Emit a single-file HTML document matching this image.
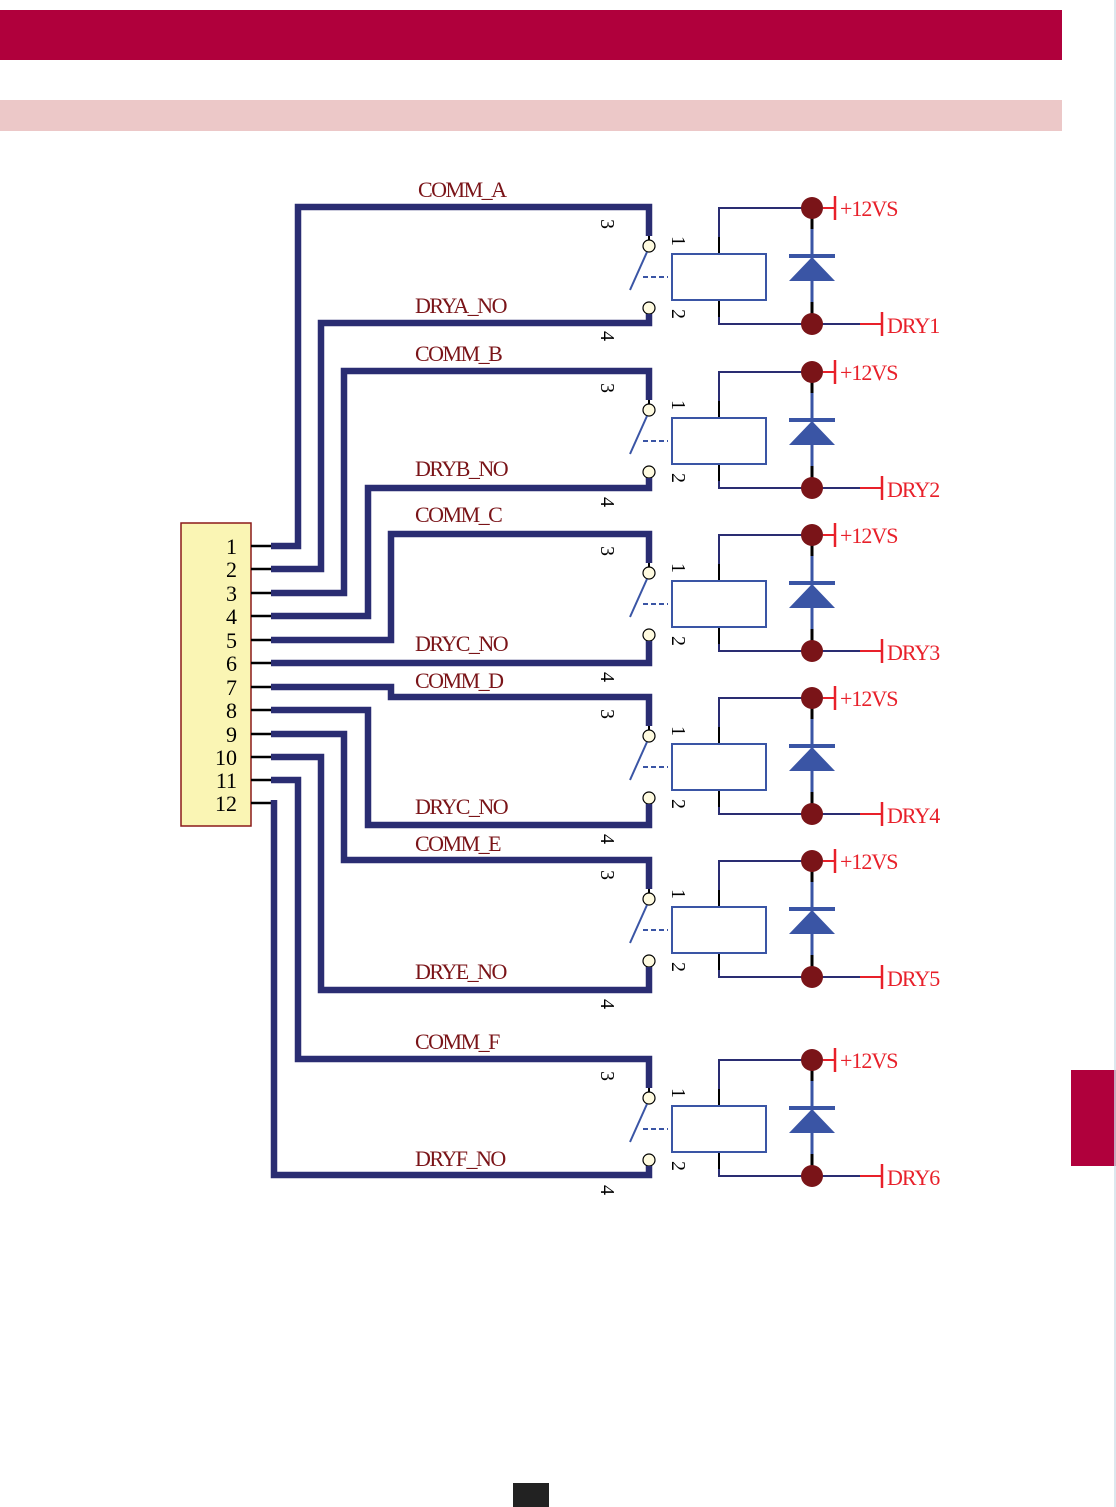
<!DOCTYPE html>
<html><head><meta charset="utf-8"><style>
html,body{margin:0;padding:0;background:#fff;}
svg{display:block;}
.lab{font-family:"Liberation Serif",serif;font-size:22px;fill:#7a1418;letter-spacing:-1.5px;}
.red{font-family:"Liberation Serif",serif;font-size:22px;fill:#e8202a;letter-spacing:-1px;}
.pn{font-family:"Liberation Serif",serif;font-size:22px;fill:#000;}
.num{font-family:"Liberation Serif",serif;font-size:20px;fill:#000;}
</style></head><body>
<svg width="1116" height="1507" viewBox="0 0 1116 1507" xmlns="http://www.w3.org/2000/svg">
<rect x="0" y="10" width="1062" height="50" fill="#b0003c"/>
<rect x="0" y="100" width="1062" height="31" fill="#ecc8c8"/>
<rect x="1071" y="1070" width="45" height="96" fill="#b0003c"/>
<line x1="1115" y1="0" x2="1115" y2="1507" stroke="#d0e0e8" stroke-width="1.5"/>
<rect x="513" y="1483" width="36" height="24" fill="#222"/>
<defs>
<g id="relay">
<polyline points="719,47 719,1 812,1" fill="none" stroke="#2a2d72" stroke-width="2"/>
<line x1="719" y1="30" x2="719" y2="47" stroke="#000" stroke-width="2"/>
<polyline points="719,93 719,117 860,117" fill="none" stroke="#2a2d72" stroke-width="2"/>
<line x1="719" y1="93" x2="719" y2="110" stroke="#000" stroke-width="2"/>
<rect x="672" y="47" width="94" height="46" fill="#fff" stroke="#3a55a5" stroke-width="2"/>
<line x1="812" y1="1" x2="812" y2="117" stroke="#3a55a5" stroke-width="3"/>
<line x1="812" y1="1" x2="812" y2="22" stroke="#000" stroke-width="3"/>
<line x1="812" y1="95" x2="812" y2="117" stroke="#000" stroke-width="3"/>
<line x1="789" y1="49" x2="835" y2="49" stroke="#3a55a5" stroke-width="4"/>
<polygon points="789,74 835,74 812,50" fill="#3a55a5"/>
<line x1="823" y1="1" x2="835" y2="1" stroke="#e8202a" stroke-width="2"/>
<line x1="835" y1="-11" x2="835" y2="13" stroke="#e8202a" stroke-width="2.5"/>
<line x1="860" y1="117" x2="882" y2="117" stroke="#e8202a" stroke-width="2"/>
<line x1="882" y1="105" x2="882" y2="129" stroke="#e8202a" stroke-width="2.5"/>
<circle cx="812" cy="1" r="11" fill="#7a1418"/>
<circle cx="812" cy="117" r="11" fill="#7a1418"/>
<line x1="649" y1="28" x2="649" y2="33" stroke="#000" stroke-width="2"/>
<circle cx="649" cy="39" r="6" fill="#fffbe0" stroke="#000" stroke-width="1.2"/>
<circle cx="649" cy="101" r="6" fill="#fffbe0" stroke="#000" stroke-width="1.2"/>
<line x1="630" y1="83" x2="647" y2="45" stroke="#3a55a5" stroke-width="2"/>
<line x1="643" y1="70" x2="668" y2="70" stroke="#3a55a5" stroke-width="2" stroke-dasharray="5,3"/>
</g>
</defs>
<use href="#relay" transform="translate(0,207)"/>
<use href="#relay" transform="translate(0,371)"/>
<use href="#relay" transform="translate(0,534)"/>
<use href="#relay" transform="translate(0,697)"/>
<use href="#relay" transform="translate(0,860)"/>
<use href="#relay" transform="translate(0,1059)"/>

<rect x="181" y="523" width="70" height="303" fill="#faf5b4" stroke="#8b1a1a" stroke-width="1.5"/>
<g stroke="#000" stroke-width="2.5">
<line x1="251" y1="546" x2="272" y2="546"/><line x1="251" y1="569" x2="272" y2="569"/>
<line x1="251" y1="593" x2="272" y2="593"/><line x1="251" y1="616" x2="272" y2="616"/>
<line x1="251" y1="640" x2="272" y2="640"/><line x1="251" y1="663" x2="272" y2="663"/>
<line x1="251" y1="687" x2="272" y2="687"/><line x1="251" y1="710" x2="272" y2="710"/>
<line x1="251" y1="734" x2="272" y2="734"/><line x1="251" y1="757" x2="272" y2="757"/>
<line x1="251" y1="780" x2="272" y2="780"/><line x1="251" y1="803" x2="272" y2="803"/>
</g>
<g class="pn" text-anchor="end">
<text x="237" y="554">1</text><text x="237" y="577">2</text><text x="237" y="601">3</text>
<text x="237" y="624">4</text><text x="237" y="648">5</text><text x="237" y="671">6</text>
<text x="237" y="695">7</text><text x="237" y="718">8</text><text x="237" y="742">9</text>
<text x="237" y="765">10</text><text x="237" y="788">11</text><text x="237" y="811">12</text>
</g>

<g fill="none" stroke="#2a2d72" stroke-width="6.5" stroke-linejoin="miter">
<polyline points="271,546 298,546 298,207 649,207 649,236"/>
<polyline points="271,569 321,569 321,323 649,323 649,314"/>
<polyline points="271,593 344,593 344,371 649,371 649,400"/>
<polyline points="271,616 368,616 368,488 649,488 649,478"/>
<polyline points="271,640 391,640 391,534 649,534 649,563"/>
<polyline points="271,663 649,663 649,641"/>
<polyline points="271,687 391,687 391,697 649,697 649,726"/>
<polyline points="271,710 368,710 368,825 649,825 649,804"/>
<polyline points="271,734 344,734 344,860 649,860 649,889"/>
<polyline points="271,757 321,757 321,990 649,990 649,967"/>
<polyline points="271,780 298,780 298,1059 649,1059 649,1088"/>
<polyline points="274,800 274,1175 649,1175 649,1166"/>
</g>

<g class="lab">
<text x="418" y="197">COMM_A</text><text x="415" y="313">DRYA_NO</text>
<text x="415" y="361">COMM_B</text><text x="415" y="476">DRYB_NO</text>
<text x="415" y="522">COMM_C</text><text x="415" y="651">DRYC_NO</text>
<text x="415" y="688">COMM_D</text><text x="415" y="814">DRYC_NO</text>
<text x="415" y="851">COMM_E</text><text x="415" y="979">DRYE_NO</text>
<text x="415" y="1049">COMM_F</text><text x="415" y="1166">DRYF_NO</text>
</g>
<g class="red">
<text x="840" y="216">+12VS</text><text x="887" y="333">DRY1</text>
<text x="840" y="380">+12VS</text><text x="887" y="497">DRY2</text>
<text x="840" y="543">+12VS</text><text x="887" y="660">DRY3</text>
<text x="840" y="706">+12VS</text><text x="887" y="823">DRY4</text>
<text x="840" y="869">+12VS</text><text x="887" y="986">DRY5</text>
<text x="840" y="1068">+12VS</text><text x="887" y="1185">DRY6</text>
</g>
<g class="num">
<text transform="translate(601,219) rotate(90)">3</text>
<text transform="translate(601,331) rotate(90)">4</text>
<text transform="translate(672,236) rotate(90)">1</text>
<text transform="translate(672,309) rotate(90)">2</text>
<text transform="translate(601,383) rotate(90)">3</text>
<text transform="translate(601,497) rotate(90)">4</text>
<text transform="translate(672,400) rotate(90)">1</text>
<text transform="translate(672,473) rotate(90)">2</text>
<text transform="translate(601,546) rotate(90)">3</text>
<text transform="translate(601,672) rotate(90)">4</text>
<text transform="translate(672,563) rotate(90)">1</text>
<text transform="translate(672,636) rotate(90)">2</text>
<text transform="translate(601,709) rotate(90)">3</text>
<text transform="translate(601,834) rotate(90)">4</text>
<text transform="translate(672,726) rotate(90)">1</text>
<text transform="translate(672,799) rotate(90)">2</text>
<text transform="translate(601,870) rotate(90)">3</text>
<text transform="translate(601,999) rotate(90)">4</text>
<text transform="translate(672,889) rotate(90)">1</text>
<text transform="translate(672,962) rotate(90)">2</text>
<text transform="translate(601,1071) rotate(90)">3</text>
<text transform="translate(601,1185) rotate(90)">4</text>
<text transform="translate(672,1088) rotate(90)">1</text>
<text transform="translate(672,1161) rotate(90)">2</text>
</g>
</svg>
</body></html>
